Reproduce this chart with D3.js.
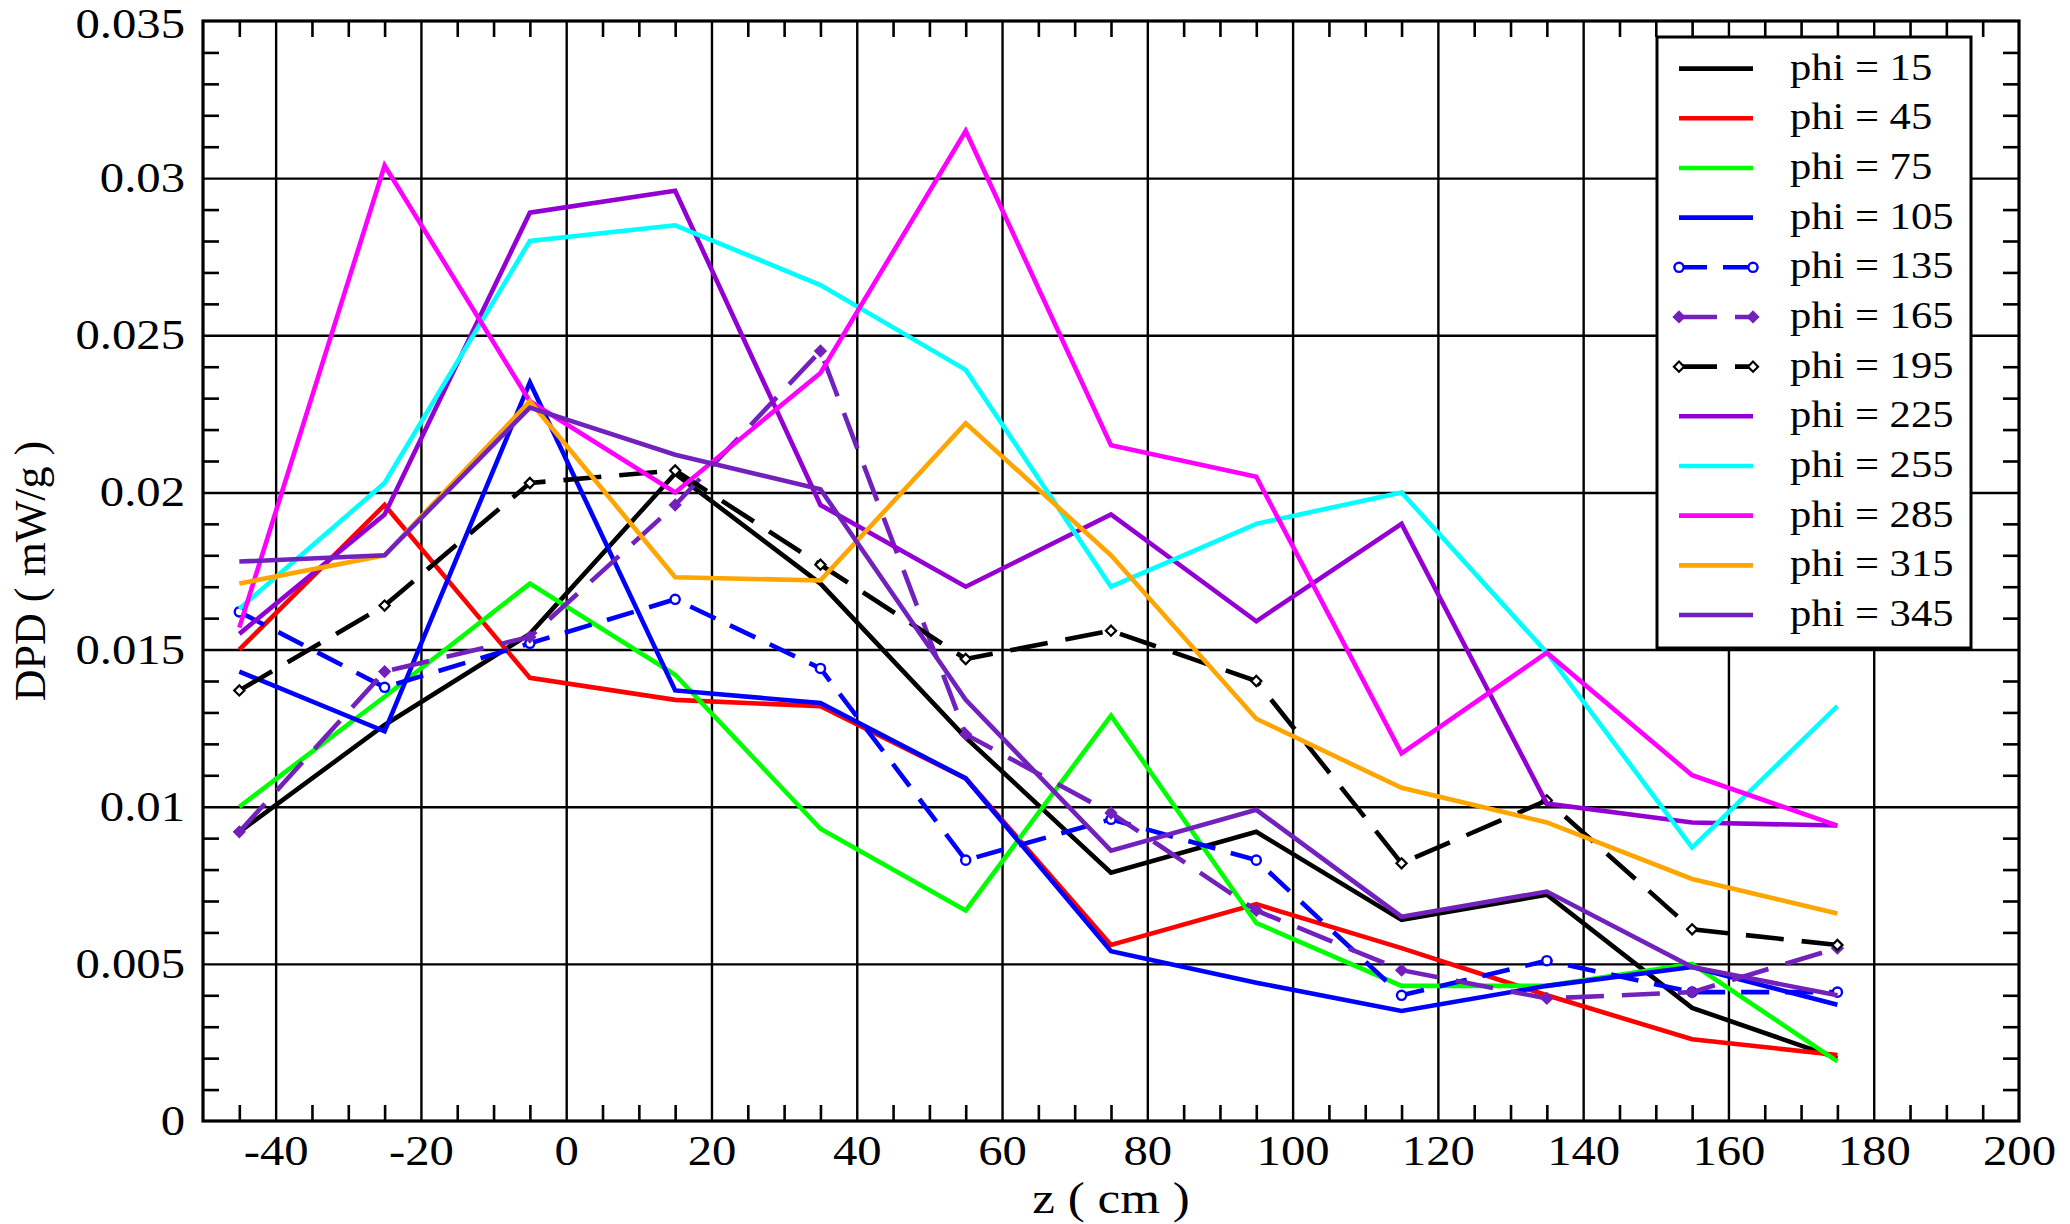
<!DOCTYPE html>
<html>
<head>
<meta charset="utf-8">
<script src="https://cdn.jsdelivr.net/npm/d3@7"></script>
<style>
  html, body { margin: 0; padding: 0; background: #fff; }
  svg { display: block; }
</style>
</head>
<body>
<svg id="chart" width="2070" height="1224"></svg>
<script>
// ---------------- data ----------------
const zValues = [-45, -25, -5, 15, 35, 55, 75, 95, 115, 135, 155, 175];

const phi15  = [0.0092, 0.0126, 0.0155, 0.0206, 0.0171, 0.0122, 0.0079, 0.0092, 0.0064, 0.0072, 0.0036, 0.0020];
const phi45  = [0.0150, 0.0196, 0.0141, 0.0134, 0.0132, 0.0109, 0.0056, 0.0069, 0.0055, 0.0040, 0.0026, 0.0021];
const phi75  = [0.0100, 0.0135, 0.0171, 0.0142, 0.0093, 0.0067, 0.0129, 0.0063, 0.0043, 0.0043, 0.0050, 0.0019];
const phi105 = [0.0143, 0.0124, 0.0235, 0.0137, 0.0133, 0.0109, 0.0054, 0.0044, 0.0035, 0.0043, 0.0049, 0.0037];
const phi135 = [0.0162, 0.0138, 0.0152, 0.0166, 0.0144, 0.0083, 0.0096, 0.0083, 0.0040, 0.0051, 0.0041, 0.0041];
const phi165 = [0.0092, 0.0143, 0.0154, 0.0196, 0.0245, 0.0123, 0.0098, 0.0067, 0.0048, 0.0039, 0.0041, 0.0055];
const phi195 = [0.0137, 0.0164, 0.0203, 0.0207, 0.0177, 0.0147, 0.0156, 0.0140, 0.0082, 0.0102, 0.0061, 0.0056];
const phi225 = [0.0155, 0.0193, 0.0289, 0.0296, 0.0196, 0.0170, 0.0193, 0.0159, 0.0190, 0.0101, 0.0095, 0.0094];
const phi255 = [0.0163, 0.0203, 0.0280, 0.0285, 0.0266, 0.0239, 0.0170, 0.0190, 0.0200, 0.0149, 0.0087, 0.0132];
const phi285 = [0.0157, 0.0304, 0.0229, 0.0200, 0.0238, 0.0315, 0.0215, 0.0205, 0.0117, 0.0149, 0.0110, 0.0094];
const phi315 = [0.0171, 0.0180, 0.0229, 0.0173, 0.0172, 0.0222, 0.0180, 0.0128, 0.0106, 0.0095, 0.0077, 0.0066];
const phi345 = [0.0178, 0.0180, 0.0227, 0.0212, 0.0201, 0.0134, 0.0086, 0.0099, 0.0065, 0.0073, 0.0049, 0.0040];

const seriesNames = ["phi = 15", "phi = 45", "phi = 75", "phi = 105", "phi = 135", "phi = 165",
                     "phi = 195", "phi = 225", "phi = 255", "phi = 285", "phi = 315", "phi = 345"];
const seriesValues = [phi15, phi45, phi75, phi105, phi135, phi165, phi195, phi225, phi255, phi285, phi315, phi345];
const seriesColors = ["#000000", "#ff0000", "#00ff00", "#0000ff", "#0000ff", "#7221bc",
                      "#000000", "#9400d3", "#00ffff", "#ff00ff", "#ffa500", "#7221bc"];
const seriesDash   = [null, null, null, null, "28,16", "38,18", "38,18", null, null, null, null, null];
const seriesMarker = [null, null, null, null, "circle", "diamondFilled", "diamond", null, null, null, null, null];

const xTickValues = [-40, -20, 0, 20, 40, 60, 80, 100, 120, 140, 160, 180, 200];
const xTickLabels = ["-40", "-20", "0", "20", "40", "60", "80", "100", "120", "140", "160", "180", "200"];
const yTickValues = [0, 0.005, 0.01, 0.015, 0.02, 0.025, 0.03, 0.035];
const yTickLabels = ["0", "0.005", "0.01", "0.015", "0.02", "0.025", "0.03", "0.035"];

const xLabel = "z ( cm )";
const yLabel = "DPD ( mW/g )";

// ---------------- layout ----------------
const L = 203, R = 2019, T = 21, B = 1121;
const W = R - L, H = B - T;
const FONT = "'Liberation Serif', 'Times New Roman', Times, serif";
const STRETCH = 1.16;

const x = d3.scaleLinear().domain([-50, 200]).range([L, R]);
const y = d3.scaleLinear().domain([0, 0.035]).range([B, T]);

const svg = d3.select("#chart");

// grid lines
const gridX = svg.append("g").attr("transform", `translate(0,${B})`)
  .call(d3.axisBottom(x).tickValues(xTickValues.filter(v => v > -50 && v < 200)).tickSize(-H).tickFormat(""));
const gridY = svg.append("g").attr("transform", `translate(${L},0)`)
  .call(d3.axisLeft(y).tickValues(yTickValues.filter(v => v > 0 && v < 0.035)).tickSize(-W).tickFormat(""));
[gridX, gridY].forEach(g => {
  g.select(".domain").remove();
  g.selectAll("line").attr("stroke", "#000").attr("stroke-width", 2.4);
});

// minor ticks (inward, all four sides)
const xMinor = d3.range(-45, 200, 5).filter(v => v % 20 !== 0);
const yMinor = d3.range(1, 35).map(v => v / 1000).filter(v => Math.round(v * 1000) % 5 !== 0);
const TL = 16;
const minorAxes = [
  svg.append("g").attr("transform", `translate(0,${B})`).call(d3.axisBottom(x).tickValues(xMinor).tickSize(-TL).tickFormat("")),
  svg.append("g").attr("transform", `translate(0,${T})`).call(d3.axisTop(x).tickValues(xMinor).tickSize(-TL).tickFormat("")),
  svg.append("g").attr("transform", `translate(${L},0)`).call(d3.axisLeft(y).tickValues(yMinor).tickSize(-TL).tickFormat("")),
  svg.append("g").attr("transform", `translate(${R},0)`).call(d3.axisRight(y).tickValues(yMinor).tickSize(-TL).tickFormat(""))
];
minorAxes.forEach(g => {
  g.select(".domain").remove();
  g.selectAll("line").attr("stroke", "#000").attr("stroke-width", 2.6);
});

// data lines
svg.append("clipPath").attr("id", "plotclip")
  .append("rect").attr("x", L).attr("y", T).attr("width", W).attr("height", H);
const plot = svg.append("g").attr("clip-path", "url(#plotclip)");
const line = d3.line().x((d, i) => x(zValues[i])).y(d => y(d));

const squareSym = d3.symbol().type(d3.symbolSquare).size(52);

function drawMarker(g, kind, cx, cy, color) {
  if (kind === "circle") {
    g.append("circle").attr("cx", cx).attr("cy", cy).attr("r", 4.6)
      .attr("fill", "#fff").attr("stroke", color).attr("stroke-width", 2.4);
  } else if (kind === "diamond" || kind === "diamondFilled") {
    g.append("path").attr("d", squareSym())
      .attr("transform", `translate(${cx},${cy}) rotate(45)`)
      .attr("fill", kind === "diamondFilled" ? color : "#fff")
      .attr("stroke", color).attr("stroke-width", 2.2);
  }
}

seriesValues.forEach((vals, s) => {
  const p = plot.append("path").datum(vals)
    .attr("d", line)
    .attr("fill", "none")
    .attr("stroke", seriesColors[s])
    .attr("stroke-width", 4.6)
    .attr("stroke-linejoin", "miter")
    .attr("stroke-miterlimit", 6);
  if (seriesDash[s]) p.attr("stroke-dasharray", seriesDash[s]);
  if (seriesMarker[s]) {
    const mg = plot.append("g");
    vals.forEach((v, i) => drawMarker(mg, seriesMarker[s], x(zValues[i]), y(v), seriesColors[s]));
  }
});

// frame
svg.append("rect").attr("x", L).attr("y", T).attr("width", W).attr("height", H)
  .attr("fill", "none").attr("stroke", "#000").attr("stroke-width", 3.2);

// tick labels
const xAxisG = svg.append("g").attr("transform", `translate(0,${B})`)
  .call(d3.axisBottom(x).tickValues(xTickValues).tickSize(0).tickPadding(14)
    .tickFormat((d, i) => xTickLabels[i]));
const yAxisG = svg.append("g").attr("transform", `translate(${L},0)`)
  .call(d3.axisLeft(y).tickValues(yTickValues).tickSize(0).tickPadding(15.5)
    .tickFormat((d, i) => yTickLabels[i]));
[xAxisG, yAxisG].forEach(g => {
  g.select(".domain").remove();
  g.selectAll("text")
    .attr("font-family", FONT).attr("font-size", 42).attr("fill", "#000")
    .attr("transform", `scale(${STRETCH},1)`);
});
// keep the top label inside the page
yAxisG.selectAll("text").filter(d => d === 0.035).attr("dy", "0.4em");

// axis titles
svg.append("text")
  .attr("transform", `translate(${(L + R) / 2},1213) scale(${STRETCH},1)`)
  .attr("text-anchor", "middle")
  .attr("font-family", FONT).attr("font-size", 44).attr("fill", "#000")
  .text(xLabel);
svg.append("text")
  .attr("transform", `translate(45,${(T + B) / 2}) rotate(-90)`)
  .attr("text-anchor", "middle")
  .attr("font-family", FONT).attr("font-size", 44).attr("fill", "#000")
  .text(yLabel);

// legend
const LX = 1657, LY = 37, LW = 314, LH = 611;
const leg = svg.append("g");
leg.append("rect").attr("x", LX).attr("y", LY).attr("width", LW).attr("height", LH)
  .attr("fill", "#fff").attr("stroke", "#000").attr("stroke-width", 3);
const legY = d3.scaleLinear().domain([0, seriesNames.length - 1]).range([68.6, 615]);
seriesNames.forEach((name, s) => {
  const yy = legY(s);
  const l = leg.append("line").attr("x1", 1679).attr("x2", 1753).attr("y1", yy).attr("y2", yy)
    .attr("stroke", seriesColors[s]).attr("stroke-width", 4.6);
  if (seriesDash[s]) l.attr("stroke-dasharray", seriesDash[s]);
  if (seriesMarker[s]) {
    drawMarker(leg, seriesMarker[s], 1679, yy, seriesColors[s]);
    drawMarker(leg, seriesMarker[s], 1753, yy, seriesColors[s]);
  }
  leg.append("text")
    .attr("transform", `translate(1790,${yy + 11}) scale(1.15,1)`)
    .attr("font-family", FONT).attr("font-size", 37).attr("fill", "#000")
    .text(name);
});
</script>
</body>
</html>
